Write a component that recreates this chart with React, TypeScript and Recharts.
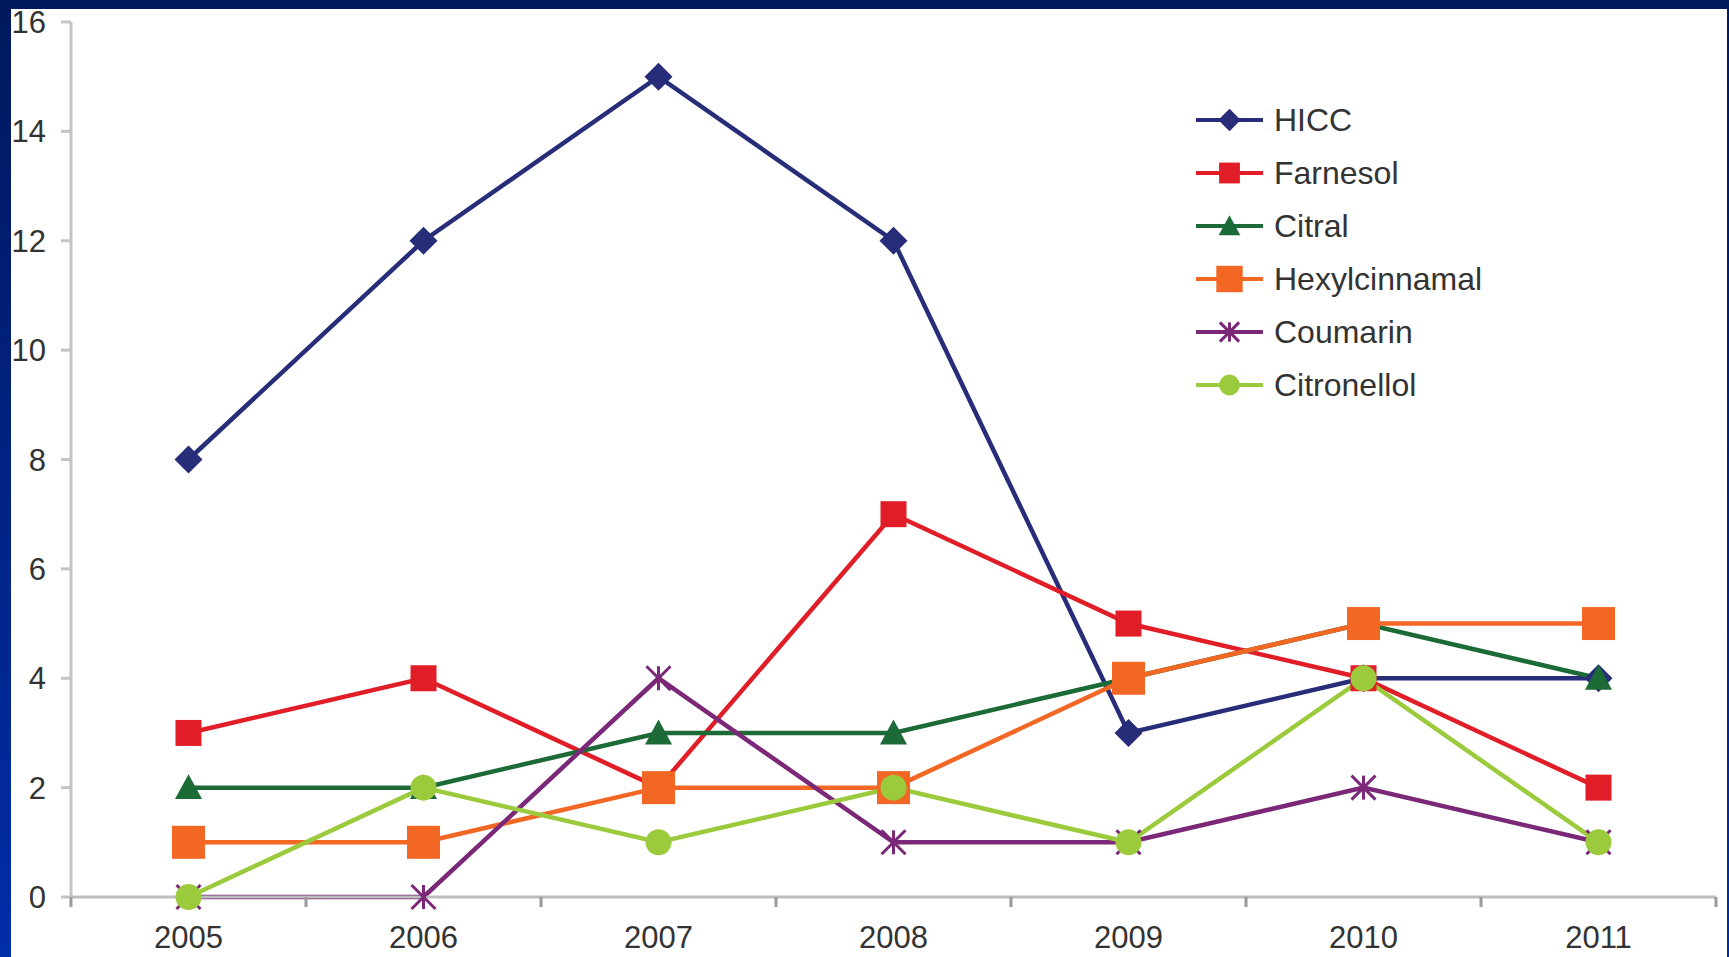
import { LineChart, Line, XAxis, YAxis, Legend } from "recharts";

const years = ["2005", "2006", "2007", "2008", "2009", "2010", "2011"];
const hicc = [8, 12, 15, 12, 3, 4, 4];
const farnesol = [3, 4, 2, 7, 5, 4, 2];
const citral = [2, 2, 3, 3, 4, 5, 4];
const hexylcinnamal = [1, 1, 2, 2, 4, 5, 5];
const coumarin = [0, 0, 4, 1, 1, 2, 1];
const citronellol = [0, 2, 1, 2, 1, 4, 1];
const yTicks = [0, 2, 4, 6, 8, 10, 12, 14, 16];

type Shape = "diamond" | "square" | "triangle" | "bigSquare" | "star" | "circle";

const series: { key: string; values: number[]; color: string; shape: Shape }[] = [
  { key: "HICC", values: hicc, color: "#272D78", shape: "diamond" },
  { key: "Farnesol", values: farnesol, color: "#E11D27", shape: "square" },
  { key: "Citral", values: citral, color: "#1C6A36", shape: "triangle" },
  { key: "Hexylcinnamal", values: hexylcinnamal, color: "#F26724", shape: "bigSquare" },
  { key: "Coumarin", values: coumarin, color: "#7A2877", shape: "star" },
  { key: "Citronellol", values: citronellol, color: "#9BCB3C", shape: "circle" },
];

const data = years.map((year, i) => {
  const row: Record<string, string | number> = { year };
  series.forEach((s) => {
    row[s.key] = s.values[i];
  });
  return row;
});

const FONT = "'Liberation Sans', Arial, sans-serif";
const CHART_W = 1729;
const CHART_H = 957;
const MARGIN = { top: 22, right: 13, left: 11, bottom: 0 };
const Y_AXIS_W = 60;
const PLOT_W = CHART_W - MARGIN.left - MARGIN.right - Y_AXIS_W;
const HALF_BAND = PLOT_W / years.length / 2;

function Marker({ shape, cx, cy, color, size = 1 }: { shape: Shape; cx: number; cy: number; color: string; size?: number }) {
  switch (shape) {
    case "diamond": {
      const h = 14 * size;
      return <polygon points={`${cx},${cy - h} ${cx + h},${cy} ${cx},${cy + h} ${cx - h},${cy}`} fill={color} />;
    }
    case "square": {
      const h = 13 * size;
      return <rect x={cx - h} y={cy - h} width={2 * h} height={2 * h} fill={color} />;
    }
    case "bigSquare": {
      const h = 16.5 * size;
      return <rect x={cx - h} y={cy - h} width={2 * h} height={2 * h} fill={color} />;
    }
    case "triangle": {
      const h = 13.5 * size;
      return <polygon points={`${cx},${cy - h} ${cx + h},${cy + h * 0.85} ${cx - h},${cy + h * 0.85}`} fill={color} />;
    }
    case "circle":
      return <circle cx={cx} cy={cy} r={13 * size} fill={color} />;
    case "star": {
      const h = 12 * size;
      return (
        <g stroke={color} strokeWidth={3}>
          <line x1={cx - h} y1={cy - h} x2={cx + h} y2={cy + h} />
          <line x1={cx - h} y1={cy + h} x2={cx + h} y2={cy - h} />
          <line x1={cx} y1={cy - h} x2={cx} y2={cy + h} />
        </g>
      );
    }
  }
  return null;
}

// year label under each point, with the tick marks sitting between categories
function YearTick(props: any) {
  const { x, y, payload, index } = props;
  return (
    <g>
      <line x1={x - HALF_BAND} x2={x - HALF_BAND} y1={y} y2={y + 10} stroke="#999" strokeWidth={3} />
      {index === years.length - 1 && (
        <line x1={x + HALF_BAND} x2={x + HALF_BAND} y1={y} y2={y + 10} stroke="#999" strokeWidth={3} />
      )}
      <text x={x} y={y + 29} dy="0.71em" textAnchor="middle" fill="#333" fontSize={31} fontFamily={FONT}>
        {payload.value}
      </text>
    </g>
  );
}

function LegendBox() {
  return (
    <div style={{ fontFamily: FONT, fontSize: 32, color: "#333" }}>
      {series.map((s) => (
        <div key={s.key} style={{ display: "flex", alignItems: "center", height: 53 }}>
          <svg width={72} height={40}>
            <line x1={0} x2={67} y1={20} y2={20} stroke={s.color} strokeWidth={4} />
            <Marker shape={s.shape} cx={33.5} cy={20} color={s.color} size={0.8} />
          </svg>
          <span style={{ marginLeft: 6, lineHeight: 1 }}>{s.key}</span>
        </div>
      ))}
    </div>
  );
}

export default function App() {
  return (
    <div
      style={{
        position: "fixed",
        left: 0,
        top: 0,
        width: CHART_W,
        height: CHART_H,
        background: "linear-gradient(#00185c, #002da8)",
        overflow: "hidden",
      }}
    >
      <div style={{ position: "absolute", left: 11, top: 9, right: 2, bottom: -10, background: "#fff" }} />
      <div style={{ position: "absolute", left: 0, top: 0 }}>
        <LineChart width={CHART_W} height={CHART_H} data={data} margin={MARGIN}>
          <XAxis
            dataKey="year"
            height={60}
            padding={{ left: HALF_BAND, right: HALF_BAND }}
            axisLine={{ stroke: "#bdbdbd", strokeWidth: 3 }}
            tickLine={false}
            tickSize={0}
            tickMargin={0}
            tick={<YearTick />}
            interval={0}
          />
          <YAxis
            width={Y_AXIS_W}
            domain={[0, 16]}
            ticks={yTicks}
            interval={0}
            axisLine={{ stroke: "#c4c4c4", strokeWidth: 3 }}
            tickLine={{ stroke: "#c4c4c4", strokeWidth: 3 }}
            tickSize={10}
            tickMargin={15}
            tick={{ fill: "#333", fontSize: 31, fontFamily: FONT }}
          />
          <Legend
            layout="vertical"
            align="center"
            verticalAlign="middle"
            wrapperStyle={{ left: 1196, top: 93, width: 330 }}
            content={<LegendBox />}
          />
          {series.map((s) => (
            <Line
              key={s.key}
              dataKey={s.key}
              type="linear"
              stroke={s.color}
              strokeWidth={4.5}
              isAnimationActive={false}
              activeDot={false}
              dot={(p: any) => (
                <Marker key={`${s.key}-${p.index}`} shape={s.shape} cx={p.cx} cy={p.cy} color={s.color} />
              )}
            />
          ))}
        </LineChart>
      </div>
    </div>
  );
}
